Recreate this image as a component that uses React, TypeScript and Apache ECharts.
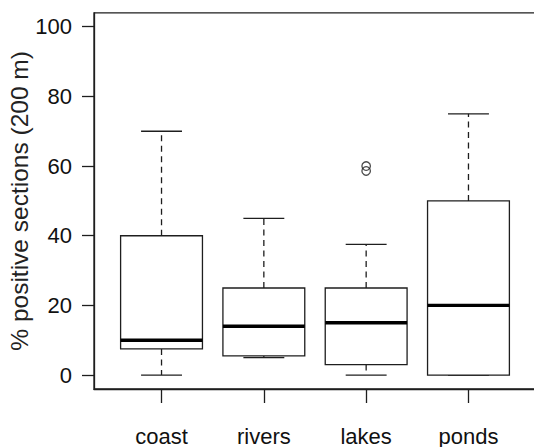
import React, { useEffect, useRef } from "react";
import * as echarts from "echarts";

const categories = ["coast", "rivers", "lakes", "ponds"];
const lowWhisker = [0, 5, 0, 0];
const q1 = [7.5, 5.5, 3, 0];
const median = [10, 14, 15, 20];
const q3 = [40, 25, 25, 50];
const highWhisker = [70, 45, 37.5, 75];
const outlierCategory = ["lakes", "lakes"];
const outlierValues = [60, 58.6];
const yTicks = [0, 20, 40, 60, 80, 100];

const INK = "#1e1e1e";
const FONT = "Liberation Sans, Arial, sans-serif";

export default function App() {
  const ref = useRef<HTMLDivElement>(null);
  useEffect(() => {
    if (!ref.current) return;
    const chart = echarts.init(ref.current, undefined, { renderer: "svg" });
    const boxData = categories.map((c, i) => [
      i + 1,
      lowWhisker[i],
      q1[i],
      median[i],
      q3[i],
      highWhisker[i],
    ]);
    const outlierData = outlierCategory.map((c, i) => [
      categories.indexOf(c) + 1,
      outlierValues[i],
    ]);
    const renderItem = (params: any, api: any) => {
      const x = api.value(0);
      const lo = api.value(1);
      const a = api.value(2);
      const m = api.value(3);
      const b = api.value(4);
      const hi = api.value(5);
      const tl = api.coord([x - 0.4, b]);
      const br = api.coord([x + 0.4, a]);
      const ctr = api.coord([x, m]);
      const pHi = api.coord([x, hi]);
      const pLo = api.coord([x, lo]);
      const pB = api.coord([x, b]);
      const pA = api.coord([x, a]);
      const capL = api.coord([x - 0.2, hi])[0];
      const capR = api.coord([x + 0.2, hi])[0];
      const lineStyle = { stroke: INK, lineWidth: 1.3, fill: "none" };
      const dash = { stroke: INK, lineWidth: 1.3, lineDash: [6, 4.5] };
      return {
        type: "group",
        children: [
          {
            type: "line",
            shape: { x1: pHi[0], y1: pB[1], x2: pHi[0], y2: pHi[1] },
            style: dash,
          },
          {
            type: "line",
            shape: { x1: pLo[0], y1: pA[1], x2: pLo[0], y2: pLo[1] },
            style: dash,
          },
          {
            type: "line",
            shape: { x1: capL, y1: pHi[1], x2: capR, y2: pHi[1] },
            style: lineStyle,
          },
          {
            type: "line",
            shape: { x1: capL, y1: pLo[1], x2: capR, y2: pLo[1] },
            style: lineStyle,
          },
          {
            type: "rect",
            shape: {
              x: tl[0],
              y: tl[1],
              width: br[0] - tl[0],
              height: br[1] - tl[1],
            },
            style: { fill: "#fff", stroke: INK, lineWidth: 1.3 },
          },
          {
            type: "line",
            shape: { x1: tl[0], y1: ctr[1], x2: br[0], y2: ctr[1] },
            style: { stroke: "#000", lineWidth: 3.4 },
          },
        ],
      };
    };
    chart.setOption({
      animation: false,
      backgroundColor: "#fff",
      textStyle: { fontFamily: FONT },
      grid: {
        left: 94,
        right: -2,
        top: 12.8,
        bottom: 58,
        show: true,
        borderColor: INK,
        borderWidth: 1.3,
        backgroundColor: "transparent",
        outerBoundsMode: "none",
        containLabel: false,
      },
      xAxis: {
        type: "value",
        min: 0.34,
        max: 4.66,
        splitLine: { show: false },
        axisLine: { show: true, onZero: false, lineStyle: { color: INK, width: 1.3 } },
        axisTick: {
          show: true,
          length: 14,
          customValues: [1, 2, 3, 4],
          lineStyle: { color: INK, width: 1.3 },
        },
        axisLabel: {
          show: true,
          customValues: [1, 2, 3, 4],
          formatter: (v: number) => categories[Math.round(v) - 1] ?? "",
          margin: 36,
          fontSize: 22,
          color: "#111",
          fontFamily: FONT,
        },
      },
      yAxis: {
        type: "value",
        min: -4,
        max: 104,
        name: "% positive sections (200 m)",
        nameLocation: "middle",
        nameRotate: 90,
        nameGap: 62,
        nameMoveOverlap: false,
        nameTextStyle: {
          fontSize: 24.5,
          color: "#222",
          fontFamily: FONT,
        },
        splitLine: { show: false },
        axisLine: { show: true, lineStyle: { color: INK, width: 1.3 } },
        axisTick: {
          show: true,
          length: 12,
          customValues: yTicks,
          lineStyle: { color: INK, width: 1.3 },
        },
        axisLabel: {
          show: true,
          customValues: yTicks,
          margin: 22,
          fontSize: 22,
          color: "#111",
          fontFamily: FONT,
        },
      },
      series: [
        {
          type: "custom",
          renderItem,
          data: boxData,
          encode: { x: 0, y: [1, 2, 3, 4, 5] },
          clip: false,
        },
        {
          type: "scatter",
          data: outlierData,
          symbol: "circle",
          symbolSize: 8.5,
          itemStyle: { color: "transparent", borderColor: INK, borderWidth: 1.3 },
        },
      ],
    });
    return () => chart.dispose();
  }, []);
  return <div ref={ref} style={{ width: 534, height: 447, position: "absolute", left: 0, top: 0 }} />;
}
